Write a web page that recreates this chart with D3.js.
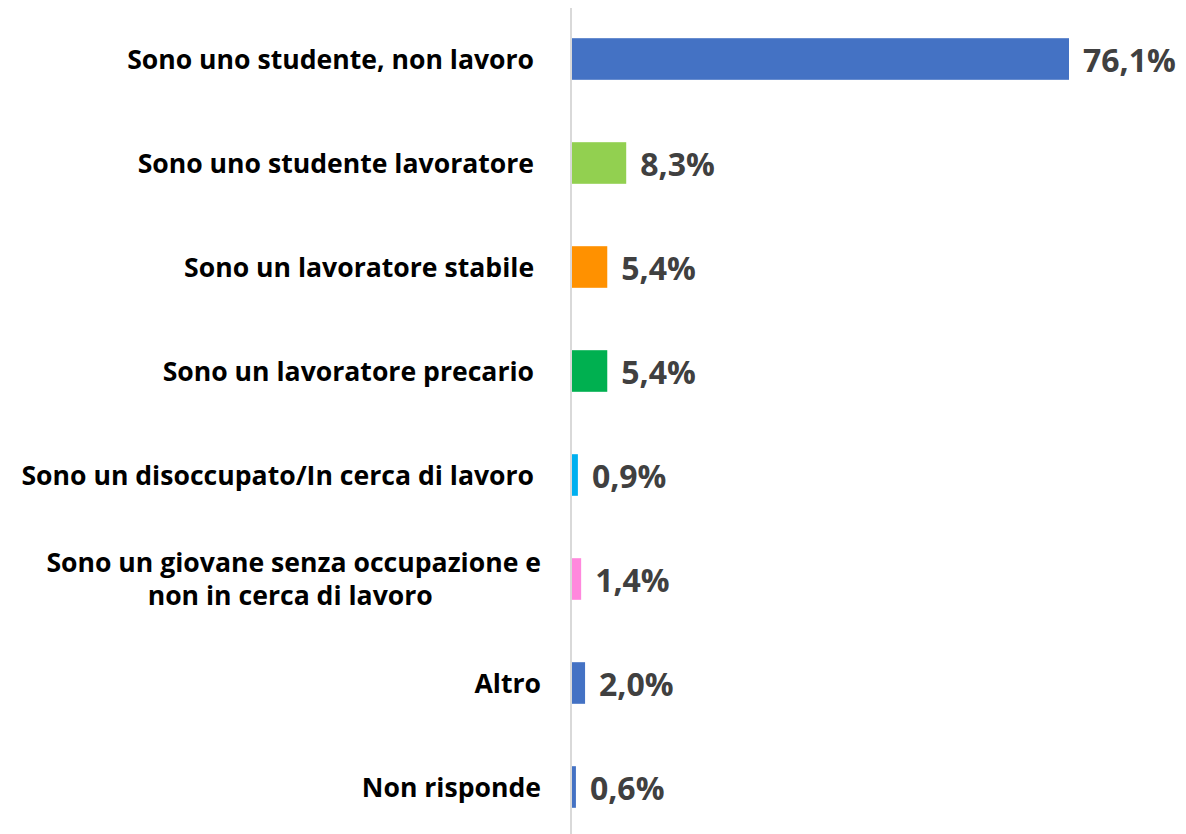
<!DOCTYPE html>
<html><head><meta charset="utf-8">
<script src="https://cdn.jsdelivr.net/npm/d3@7"></script>
<style>body{margin:0;background:#fff}svg{display:block}</style>
</head><body>
<svg id="c" width="1186" height="834"></svg>
<script>
const categories = [
  ["Sono uno studente, non lavoro "],
  ["Sono uno studente lavoratore "],
  ["Sono un lavoratore stabile "],
  ["Sono un lavoratore precario "],
  ["Sono un disoccupato/In cerca di lavoro "],
  ["Sono un giovane senza occupazione e", "non in cerca di lavoro "],
  ["Altro"],
  ["Non risponde"]
];
const values = [76.1, 8.3, 5.4, 5.4, 0.9, 1.4, 2.0, 0.6];
const valueLabels = ["76,1%", "8,3%", "5,4%", "5,4%", "0,9%", "1,4%", "2,0%", "0,6%"];
const colors = ["#4472C4", "#92D050", "#FF9100", "#00B050", "#00B0F0", "#FF88DD", "#4472C4", "#4472C4"];

const svg = d3.select("#c");
const ids = d3.range(values.length);
const x = d3.scaleLinear().domain([0, 76.1]).range([572, 1069]);
const y = d3.scaleBand().domain(ids).range([7, 839]).paddingInner(0.6).paddingOuter(0.3);
const FONT = "'Open Sans', sans-serif";

svg.append("line").attr("x1", 571).attr("x2", 571).attr("y1", 8).attr("y2", 834)
  .attr("stroke", "#d9d9d9").attr("stroke-width", 2);

svg.selectAll("rect.bar").data(ids).join("rect").attr("class", "bar")
  .attr("x", x(0)).attr("y", i => y(i))
  .attr("width", i => x(values[i]) - x(0)).attr("height", y.bandwidth())
  .attr("fill", i => colors[i]);

svg.selectAll("text.val").data(ids).join("text").attr("class", "val")
  .attr("x", i => x(values[i]) + 14).attr("y", i => y(i) + y.bandwidth() / 2 + 12.5)
  .attr("font-family", FONT).attr("font-weight", "bold").attr("font-size", 32)
  .attr("fill", "#404040").text(i => valueLabels[i]);

const lab = svg.selectAll("text.cat").data(ids).join("text").attr("class", "cat")
  .attr("font-family", FONT).attr("font-weight", "bold").attr("font-size", 26.6)
  .attr("fill", "#000").style("white-space", "pre");
lab.each(function(i) {
  const lines = categories[i];
  const t = d3.select(this);
  const cy = y(i) + y.bandwidth() / 2;
  if (lines.length === 1) {
    t.attr("text-anchor", "end").attr("x", 541).attr("y", cy + 9.5).text(lines[0]);
  } else {
    t.attr("text-anchor", "middle");
    const spans = lines.map((l, k) => t.append("tspan")
      .attr("y", cy + 9.5 + (k - (lines.length - 1) / 2) * 33).text(l));
    const w = d3.max(spans, s => s.node().getComputedTextLength());
    spans.forEach(s => s.attr("x", 541 - w / 2));
  }
});
</script>
</body></html>
